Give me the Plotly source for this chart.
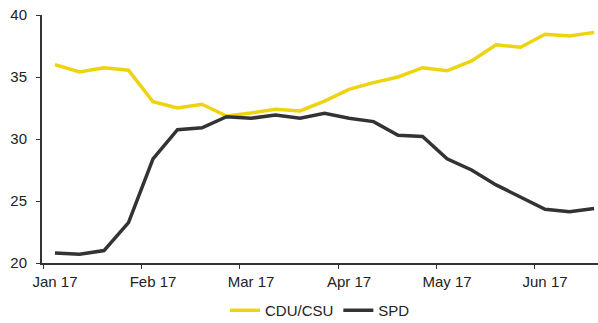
import plotly.graph_objects as go

weeks = list(range(23))
cdu = [36.0, 35.4, 35.75, 35.55, 33.0, 32.5, 32.8, 31.85, 32.1, 32.4, 32.26, 33.06,
       34.0, 34.55, 35.0, 35.75, 35.5, 36.3, 37.6, 37.4, 38.45, 38.3, 38.6]
spd = [20.8, 20.7, 21.0, 23.25, 28.4, 30.75, 30.9, 31.8, 31.67, 31.94, 31.67, 32.07,
       31.67, 31.4, 30.3, 30.2, 28.4, 27.5, 26.3, 25.35, 24.33, 24.14, 24.4]
month_labels = ["Jan 17", "Feb 17", "Mar 17", "Apr 17", "May 17", "Jun 17"]
month_ticks = [-0.45, 3.55, 7.55, 11.55, 15.55, 19.55]
y_ticks = [20, 25, 30, 35, 40]

fig = go.Figure()
fig.add_trace(go.Scatter(x=weeks, y=cdu, mode="lines", name="CDU/CSU",
                         line=dict(color="#EED40E", width=3.5)))
fig.add_trace(go.Scatter(x=weeks, y=spd, mode="lines", name="SPD",
                         line=dict(color="#333333", width=3.5)))

fig.update_layout(
    width=598, height=323,
    margin=dict(l=42, r=0, t=15, b=60, autoexpand=False),
    paper_bgcolor="white", plot_bgcolor="white",
    font=dict(family="Liberation Sans, Arial, sans-serif", size=15, color="#222222"),
    showlegend=True,
    legend=dict(orientation="h", x=0.5, xanchor="center", y=-0.125, yanchor="top",
                font=dict(size=15), itemwidth=30),
)
fig.update_xaxes(
    range=[-0.53, 22.16], tickmode="array", tickvals=month_ticks, ticktext=month_labels,
    ticklabelshift=11, ticks="outside", ticklen=4, tickcolor="#333333",
    showline=True, linecolor="#333333", linewidth=2, showgrid=False, zeroline=False,
)
fig.update_yaxes(
    range=[20, 40], tickmode="array", tickvals=y_ticks,
    ticks="outside", ticklen=4, tickcolor="#333333", ticklabelstandoff=6,
    showline=True, linecolor="#333333", linewidth=2, showgrid=False, zeroline=False,
)

fig.write_html("out.html")
